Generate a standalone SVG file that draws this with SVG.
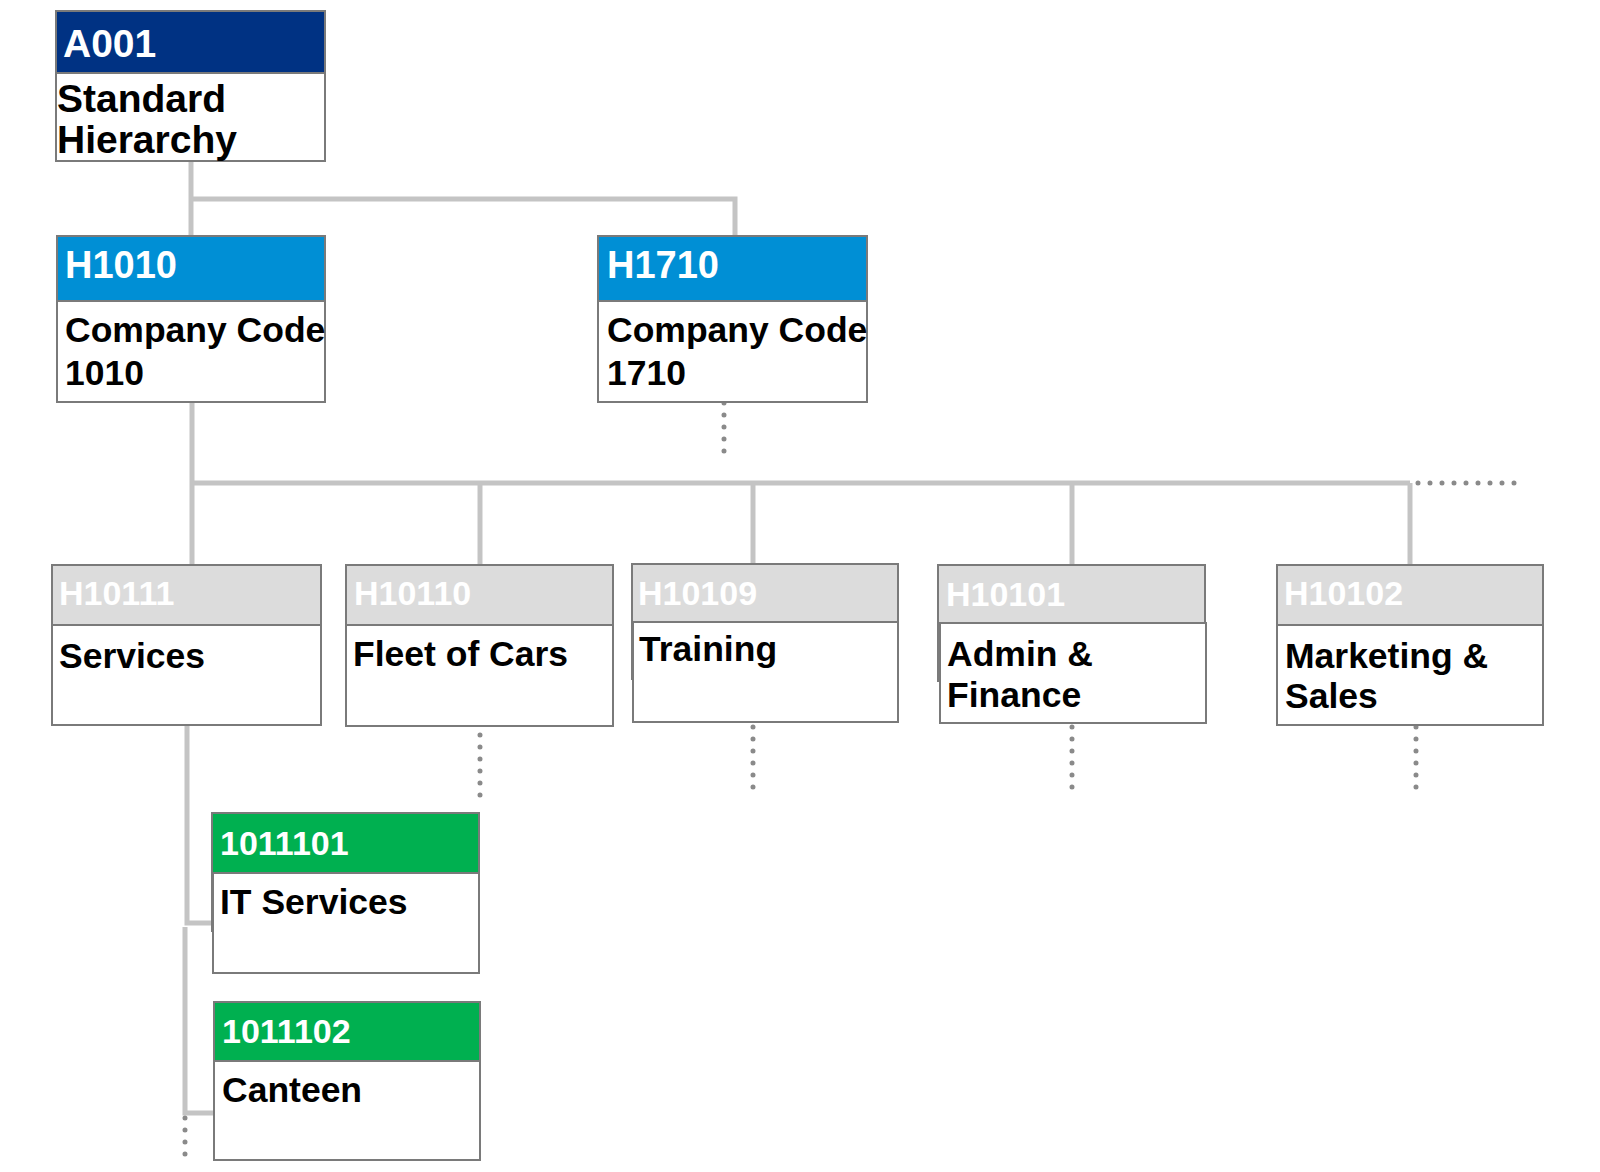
<svg xmlns="http://www.w3.org/2000/svg" width="1600" height="1172" viewBox="0 0 1600 1172">
<style>
.box{fill:#ffffff;stroke:#7a7a7a;stroke-width:2}
.hd-navy{fill:#003283;stroke:#7a7a7a;stroke-width:2}
.hd-blue{fill:#008fd5;stroke:#7a7a7a;stroke-width:2}
.hd-grey{fill:#dcdcdc;stroke:#7a7a7a;stroke-width:2}
.hd-green{fill:#00b050;stroke:#7a7a7a;stroke-width:2}
.id{font-family:"Liberation Sans",Arial,sans-serif;font-weight:bold;fill:#ffffff}
.gid{font-size:34px}
.lbl{font-family:"Liberation Sans",Arial,sans-serif;font-weight:bold;fill:#000000;font-size:35.5px}
.big{font-size:39px}
.ln{fill:none;stroke:#c4c4c4;stroke-width:5}
.dots{fill:none;stroke:#8a8a8a;stroke-width:5;stroke-linecap:round;stroke-dasharray:0 12}
</style>
<g id="connectors">
<polyline class="ln" points="191,162 191,236"/>
<polyline class="ln" points="191,199 735,199 735,236"/>
<polyline class="ln" points="192,402 192,565"/>
<polyline class="ln" points="192,483 1410,483"/>
<polyline class="ln" points="480,483 480,565"/>
<polyline class="ln" points="753,483 753,564"/>
<polyline class="ln" points="1072,483 1072,565"/>
<polyline class="ln" points="1410,483 1410,565"/>
<polyline class="ln" points="187,725 187,923 213,923"/>
<polyline class="ln" points="185,927 185,1113 214,1113"/>
<line class="dots" x1="1418" y1="483" x2="1515" y2="483"/>
<line class="dots" x1="724" y1="403" x2="724" y2="452"/>
<line class="dots" x1="480" y1="735" x2="480" y2="796"/>
<line class="dots" x1="753" y1="727" x2="753" y2="788"/>
<line class="dots" x1="1072" y1="727" x2="1072" y2="788"/>
<line class="dots" x1="1416" y1="727" x2="1416" y2="788"/>
<line class="dots" x1="185" y1="1118" x2="185" y2="1155"/>
</g>
<g id="A001">
<rect class="box" x="56" y="11" width="269" height="150"/>
<rect class="hd-navy" x="56" y="11" width="269" height="62"/>
<text class="id big" x="63" y="57">A001</text>
<text class="lbl big" x="57" y="112">Standard</text>
<text class="lbl big" x="57" y="153">Hierarchy</text>
</g>
<g id="H1010">
<rect class="box" x="57" y="236" width="268" height="166"/>
<rect class="hd-blue" x="57" y="236" width="268" height="65"/>
<text class="id" x="65" y="278" font-size="38">H1010</text>
<text class="lbl" x="65" y="342">Company Code</text>
<text class="lbl" x="65" y="385">1010</text>
</g>
<g id="H1710">
<rect class="box" x="598" y="236" width="269" height="166"/>
<rect class="hd-blue" x="598" y="236" width="269" height="65"/>
<text class="id" x="607" y="278" font-size="38">H1710</text>
<text class="lbl" x="607" y="342">Company Code</text>
<text class="lbl" x="607" y="385">1710</text>
</g>
<g id="H10111">
<rect class="box" x="52" y="565" width="269" height="160"/>
<rect class="hd-grey" x="52" y="565" width="269" height="60"/>
<text class="id gid" x="59" y="605">H10111</text>
<text class="lbl" x="59" y="668">Services</text>
</g>
<g id="H10110">
<rect class="box" x="346" y="565" width="267" height="161"/>
<rect class="hd-grey" x="346" y="565" width="267" height="60"/>
<text class="id gid" x="354" y="605">H10110</text>
<text class="lbl" x="353" y="666">Fleet of Cars</text>
</g>
<g id="H10109">
<rect class="box" x="633" y="622" width="265" height="100"/>
<rect class="hd-grey" x="632" y="564" width="266" height="58"/>
<line x1="632" y1="622" x2="632" y2="680" stroke="#7a7a7a" stroke-width="2"/>
<text class="id gid" x="638" y="605">H10109</text>
<text class="lbl" x="639" y="661">Training</text>
</g>
<g id="H10101">
<rect class="box" x="940" y="623" width="266" height="100"/>
<rect class="hd-grey" x="938" y="565" width="267" height="58"/>
<line x1="938" y1="623" x2="938" y2="682" stroke="#7a7a7a" stroke-width="2"/>
<text class="id gid" x="946" y="606">H10101</text>
<text class="lbl" x="947" y="666">Admin &amp;</text>
<text class="lbl" x="947" y="707">Finance</text>
</g>
<g id="H10102">
<rect class="box" x="1277" y="565" width="266" height="160"/>
<rect class="hd-grey" x="1277" y="565" width="266" height="60"/>
<text class="id gid" x="1284" y="605">H10102</text>
<text class="lbl" x="1285" y="668">Marketing &amp;</text>
<text class="lbl" x="1285" y="708">Sales</text>
</g>
<g id="N1011101">
<rect class="box" x="213" y="873" width="266" height="100"/>
<rect class="hd-green" x="212" y="813" width="267" height="60"/>
<line x1="212" y1="873" x2="212" y2="932" stroke="#7a7a7a" stroke-width="2"/>
<text class="id" x="220" y="855" font-size="34">1011101</text>
<text class="lbl" x="220" y="914">IT Services</text>
</g>
<g id="N1011102">
<rect class="box" x="214" y="1002" width="266" height="158"/>
<rect class="hd-green" x="214" y="1002" width="266" height="59"/>
<text class="id" x="222" y="1043" font-size="34">1011102</text>
<text class="lbl" x="222" y="1102">Canteen</text>
</g>
</svg>
